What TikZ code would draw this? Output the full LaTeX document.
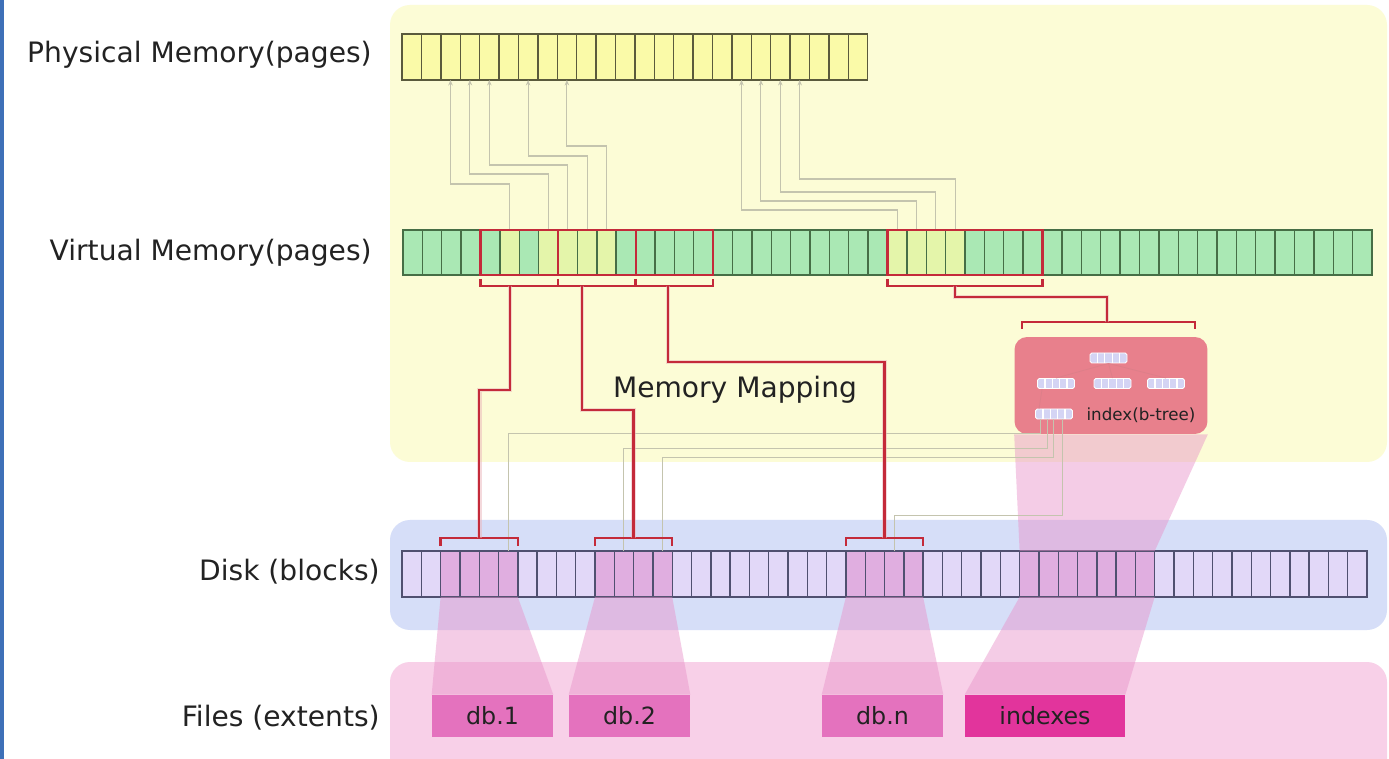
\documentclass[tikz,border=0pt]{standalone}
\usepackage{fontspec}
\setmainfont{DejaVu Sans}
\usepackage{xcolor}
\usepackage{tikz}
\usetikzlibrary{arrows.meta,calc}

\definecolor{bgyellow}{HTML}{FCFCD6}
\definecolor{bgblue}{HTML}{D6DEF8}
\definecolor{bgpink}{HTML}{F8D0E8}
\definecolor{physfill}{HTML}{FAFAA8}
\definecolor{physline}{HTML}{5A5A3C}
\definecolor{virtfill}{HTML}{AAE8B4}
\definecolor{virtline}{HTML}{466E46}
\definecolor{virtyel}{HTML}{E4F5AA}
\definecolor{diskfill}{HTML}{E2D8F8}
\definecolor{diskline}{HTML}{505070}
\definecolor{diskpink}{HTML}{E0AEE0}
\definecolor{mapred}{HTML}{C42A3A}
\definecolor{pagegray}{HTML}{C4C4AE}
\definecolor{idxred}{HTML}{E8808C}
\definecolor{btfill}{HTML}{D4D4F4}
\definecolor{filepink}{HTML}{E472BE}
\definecolor{filemag}{HTML}{E2349C}
\definecolor{trappink}{HTML}{E890C8}
\definecolor{txtgray}{HTML}{222222}
\definecolor{winblue}{HTML}{3E70B8}

\begin{document}
\begin{tikzpicture}[x=0.02cm, y=-0.02cm,
  pcell/.style={draw=physline, fill=physfill, line width=0.8pt, minimum width=0.388cm, minimum height=0.92cm, inner sep=0pt, outer sep=0pt},
  vcell/.style={pcell, draw=virtline, fill=virtfill, minimum width=0.3876cm, minimum height=0.9cm},
  dcell/.style={pcell, draw=diskline, fill=diskfill, minimum width=0.386cm},
  redbox/.style={draw=mapred, line width=1.2pt},
  redbr/.style={draw=mapred, line width=1.3pt},
  mapline/.style={draw=mapred, line width=1.4pt, preaction={draw=mapred!35, line width=2.8pt, opacity=0.5}},
  pline/.style={draw=pagegray, line width=0.6pt},
  trap/.style={fill=trappink, fill opacity=0.45},
  fbox/.style={fill=filepink, minimum width=2.42cm, minimum height=0.84cm, inner sep=0pt, text=txtgray, font=\fontsize{13.5}{16}\selectfont},
  lbl/.style={text=txtgray, inner sep=0pt, font=\fontsize{16}{19}\selectfont},
  btnode/.style={fill=btfill, draw=white, line width=0.5pt, rounded corners=1pt, minimum width=0.74cm, minimum height=0.2cm, inner sep=0pt,
    path picture={\foreach \k in {1,2,3,4} \draw[white, line width=0.7pt] ([xshift=\k*0.148cm]path picture bounding box.south west) -- ([xshift=\k*0.148cm]path picture bounding box.north west);}},
  tline/.style={draw=mapred!60, line width=0.4pt}]

\useasboundingbox (0,0) rectangle (1389,759);
\clip (0,0) rectangle (1389,759);
\fill[white] (0,0) rectangle (1389,759);
\fill[winblue] (0,0) rectangle (4,759);
\fill[bgyellow, rounded corners=0.4cm] (390,5) rectangle (1387,462);
\fill[bgblue, rounded corners=0.4cm] (390,520) rectangle (1387,630);
\fill[bgpink, rounded corners=0.4cm] (390,662) rectangle (1387,790);

\foreach \i in {0,...,23} \node[pcell] (p\i) at ({402+19.4*(\i+0.5)},57) {};
\foreach \i in {0,...,49} \node[vcell] (v\i) at ({403+19.38*(\i+0.5)},252.5) {};
\foreach \i in {0,...,49} \node[dcell] (d\i) at ({402+19.3*(\i+0.5)},574) {};
\foreach \i in {5,7,8,9,10,25,26,27,28} \node[vcell, fill=virtyel] (vy\i) at (v\i) {};
\foreach \i in {2,3,4,5,10,11,12,13,23,24,25,26,32,33,34,35,36,37,38} \node[dcell, fill=diskpink] (dp\i) at (d\i) {};

\node[fill=idxred, rounded corners=0.25cm, minimum width=3.86cm, minimum height=1.94cm, inner sep=0pt] (ibox) at (1111,385.5) {};
\node[btnode] (broot) at (1108.5,358) {};
\node[btnode] (bc1) at (1056,383.5) {};
\node[btnode] (bc2) at (1112.5,383.5) {};
\node[btnode] (bc3) at (1166,383.5) {};
\node[btnode] (bleaf) at (1054,414) {};
\node[text=txtgray, inner sep=0pt, font=\fontsize{9.5}{11}\selectfont] (blbl) at (1141,415) {index(b-tree)};
\draw[tline] (broot.south) -- (bc1.north);
\draw[tline] (broot.south) -- (bc2.north);
\draw[tline] (broot.south) -- (bc3.north);
\draw[tline] ([xshift=0.1cm]bc1.south west) -- ([xshift=0.08cm]bleaf.north west);

\node[fbox] (db1) at (492.5,716) {db.1};
\node[fbox] (db2) at (629.5,716) {db.2};
\node[fbox] (dbn) at (882.5,716) {db.n};
\node[fbox, fill=filemag, minimum width=3.2cm] (idx) at (1045,716) {indexes};

\fill[trap] (d2.south west) -- (d5.south east) -- (db1.north east) -- (db1.north west) -- cycle;
\fill[trap] (d10.south west) -- (d13.south east) -- (db2.north east) -- (db2.north west) -- cycle;
\fill[trap] (d23.south west) -- (d26.south east) -- (dbn.north east) -- (dbn.north west) -- cycle;
\fill[trap] (d32.south west) -- (d38.south east) -- (idx.north east) -- (idx.north west) -- cycle;
\fill[trap] (ibox.south west) -- (ibox.south east) -- (d38.north east) -- (d32.north west) -- cycle;

\draw[pline, -{Stealth[length=1.1mm, width=0.9mm]}] (v5.north) -- ++(0,-46) -| (p2.south);
\draw[pline, -{Stealth[length=1.1mm, width=0.9mm]}] (v7.north) -- ++(0,-56) -| (p3.south);
\draw[pline, -{Stealth[length=1.1mm, width=0.9mm]}] (v8.north) -- ++(0,-65) -| (p4.south);
\draw[pline, -{Stealth[length=1.1mm, width=0.9mm]}] (v9.north) -- ++(0,-74) -| (p6.south);
\draw[pline, -{Stealth[length=1.1mm, width=0.9mm]}] (v10.north) -- ++(0,-84) -| (p8.south);
\draw[pline, -{Stealth[length=1.1mm, width=0.9mm]}] (v25.north) -- ++(0,-20) -| (p17.south);
\draw[pline, -{Stealth[length=1.1mm, width=0.9mm]}] (v26.north) -- ++(0,-29) -| (p18.south);
\draw[pline, -{Stealth[length=1.1mm, width=0.9mm]}] (v27.north) -- ++(0,-38) -| (p19.south);
\draw[pline, -{Stealth[length=1.1mm, width=0.9mm]}] (v28.north) -- ++(0,-51) -| (p20.south);

\draw[pline] ([xshift=0.1cm]bleaf.south west) -- ++(0,14) -| (d5.north);
\draw[pline] ([xshift=0.24cm]bleaf.south west) -- ++(0,29) -| (d11.north);
\draw[pline] ([xshift=0.36cm]bleaf.south west) -- ++(0,38) -| (d13.north);
\draw[pline] ([xshift=0.54cm]bleaf.south west) -- ++(0,96) -| (d25.north);

\draw[redbox] (v4.north west) rectangle (v7.south east);
\draw[redbox] (v8.north west) rectangle (v11.south east);
\draw[redbox] (v12.north west) rectangle (v15.south east);
\draw[redbox] (v25.north west) rectangle (v32.south east);
\foreach \a/\b in {4/7,8/11,12/15,25/32}
  \draw[redbr] ([yshift=-0.08cm]v\a.south west) -- ([yshift=-0.22cm]v\a.south west) -- ([yshift=-0.22cm]v\b.south east) -- ([yshift=-0.08cm]v\b.south east);
\foreach \a/\b in {2/5,10/13,23/26}
  \draw[redbr] ([yshift=0.1cm]d\a.north west) -- ([yshift=0.26cm]d\a.north west) -- ([yshift=0.26cm]d\b.north east) -- ([yshift=0.1cm]d\b.north east);
\draw[redbr] (1022,329) -- (1022,322) -- (1195,322) -- (1195,329);

\coordinate (vs1) at (510,286);
\coordinate (vs2) at (582,286);
\coordinate (vs3) at (668,286);
\coordinate (vs4) at (955,286);
\coordinate (ds1) at ([yshift=0.26cm]$(d2.north west)!.5!(d5.north east)$);
\coordinate (ds2) at ([yshift=0.26cm]$(d10.north west)!.5!(d13.north east)$);
\coordinate (ds3) at ([yshift=0.26cm]$(d23.north west)!.5!(d26.north east)$);
\coordinate (is) at (1107,322);
\draw[mapline] (vs1) -- ++(0,104) -| (ds1);
\draw[mapline] (vs2) -- ++(0,124) -| (ds2);
\draw[mapline] (vs3) -- ++(0,76) -| (ds3);
\draw[mapline] (vs4) -- ++(0,11) -| (is);

\node[lbl] (mmap) at (735,390) {Memory Mapping};
\node[lbl, anchor=east] (lphys) at (372,55) {Physical Memory(pages)};
\node[lbl, anchor=east] (lvirt) at (372,253) {Virtual Memory(pages)};
\node[lbl, anchor=east] (ldisk) at (380,572) {Disk (blocks)};
\node[lbl, anchor=east] (lfile) at (380,718) {Files (extents)};
\end{tikzpicture}
\end{document}
